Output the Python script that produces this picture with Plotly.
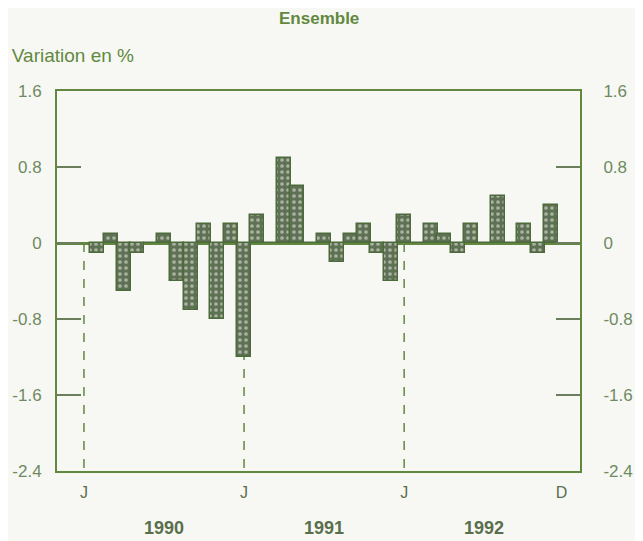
import plotly.graph_objects as go

# Monthly % change, Jan 1990 .. Dec 1992 (Jan 1990 has no bar)
month_index = list(range(36))
values = [None, -0.1, 0.1, -0.5, -0.1, 0.0, 0.1, -0.4, -0.7, 0.2, -0.8, 0.2,
          -1.2, 0.3, 0.0, 0.9, 0.6, 0.0, 0.1, -0.2, 0.1, 0.2, -0.1, -0.4,
          0.3, 0.0, 0.2, 0.1, -0.1, 0.2, 0.0, 0.5, 0.0, 0.2, -0.1, 0.4]

y_ticks = [-2.4, -1.6, -0.8, 0, 0.8, 1.6]
y_ticktext = ["-2.4", "-1.6", "-0.8", "0", "0.8", "1.6"]
x_tickvals = [0, 12, 24, 35.8]
x_ticktext = ["J", "J", "J", "D"]
year_labels = ["1990", "1991", "1992"]
year_centers = [6, 18, 30]
jan_lines = [0, 12, 24]

GREEN = "#62883f"
TICKTXT = "#6f8a5f"
BG = "#f7f8f4"
FONT = "Liberation Sans, Arial, sans-serif"

fig = go.Figure()
fig.add_trace(go.Bar(
    x=month_index, y=values, width=1.05,
    marker=dict(color="#5f7154",
                line=dict(color="#4d6a3a", width=1.5),
                pattern=dict(shape=".", fgcolor="#f4f4ee", size=6, solidity=0.3)),
    showlegend=False, hoverinfo="skip"))
# invisible trace to anchor right axis
fig.add_trace(go.Scatter(x=[0], y=[0], yaxis="y2", mode="markers",
                         marker=dict(opacity=0), showlegend=False, hoverinfo="skip"))

for xv in jan_lines:
    fig.add_shape(type="line", x0=xv, x1=xv, y0=0, y1=-2.4, xref="x", yref="y",
                  line=dict(color=GREEN, width=1.5, dash="dash"), layer="below")

for lab, xc in zip(year_labels, year_centers):
    fig.add_annotation(x=xc, y=-0.15, xref="x", yref="paper", yanchor="middle",
                       text=f"<b>{lab}</b>", showarrow=False,
                       font=dict(size=18, color="#5a6e4c", family=FONT))

fig.add_annotation(x=0.5, y=1.19, xref="paper", yref="paper", xanchor="center",
                   yanchor="middle", text="<b>Ensemble</b>", showarrow=False,
                   font=dict(size=17, color=GREEN, family=FONT))

axis_common = dict(range=[-2.4, 1.6], tickvals=y_ticks, ticktext=y_ticktext,
                   ticks="inside", ticklen=24, tickwidth=2, tickcolor="#6a7d5c",
                   showline=True, linecolor=GREEN, linewidth=2, showgrid=False,
                   automargin=False,
                   tickfont=dict(size=17, color=TICKTXT, family=FONT))

fig.update_layout(
    width=635, height=533,
    margin=dict(l=49, r=63, t=83, b=70),
    paper_bgcolor=BG, plot_bgcolor=BG,
    bargap=0,
    title=dict(text="Variation en %", x=0.006, xanchor="left", y=0.912, yanchor="middle",
               font=dict(size=19, color=GREEN, family=FONT)),
    xaxis=dict(range=[-2.02, 37.18], tickvals=x_tickvals, ticktext=x_ticktext,
               showline=True, linecolor=GREEN, linewidth=2, mirror=True,
               ticks="", showgrid=False, zeroline=False, automargin=False,
               tickfont=dict(size=16, color="#5a6e4c", family=FONT), ticklabelstandoff=6),
    yaxis=dict(**axis_common, zeroline=True, zerolinecolor=GREEN, zerolinewidth=2.5,
               ticklabelstandoff=10),
    yaxis2=dict(**axis_common, overlaying="y", side="right", zeroline=False,
                ticklabelstandoff=18),
)

fig.write_html("out.html")
